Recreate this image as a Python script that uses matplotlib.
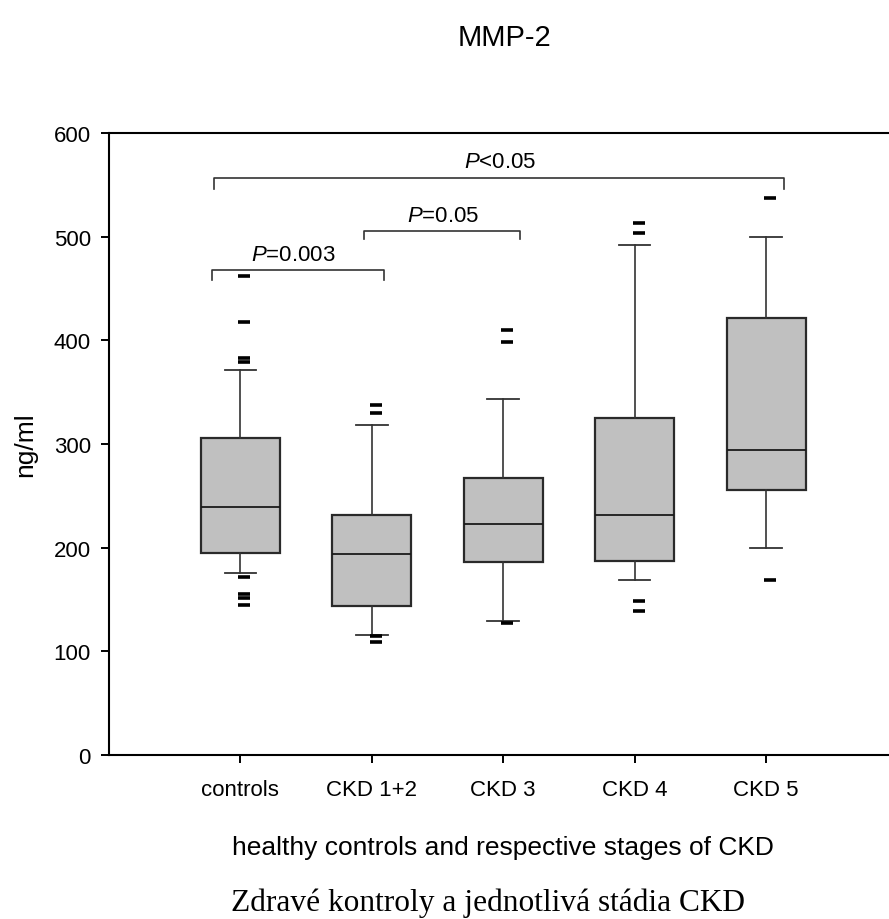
import matplotlib
matplotlib.use('Agg')
import matplotlib.pyplot as plt

#*********************************************************************************
# data (ng/ml)
groups = ['controls', 'CKD 1+2', 'CKD 3', 'CKD 4', 'CKD 5']
q1 = [194.5, 143.4, 185.9, 187.0, 255.6]
med = [239.0, 194.2, 222.8, 231.5, 294.5]
q3 = [306.0, 231.8, 267.5, 324.8, 421.5]
whislo = [176.0, 116.0, 129.3, 169.0, 199.7]
whishi = [371.7, 318.6, 343.4, 492.0, 500.0]
outliers = [[462.0, 418.0, 382.6, 379.4, 172.0, 155.0, 151.0, 144.7],
            [337.6, 329.9, 114.5, 109.3],
            [410.0, 398.7, 127.3],
            [512.9, 503.2, 148.9, 138.6],
            [537.6, 168.5]]

# significance brackets: start, end (in group units), height, label
br_x0 = [0.78, 1.94, 0.80]
br_x1 = [2.09, 3.13, 5.14]
br_y = [467.8, 505.5, 557.0]
br_leg = [10.0, 8.0, 11.0]
br_text_x = [1.40, 2.54, 2.98]
br_text = ['$\\mathit{P}$=0.003', '$\\mathit{P}$=0.05', '$\\mathit{P}$<0.05']

#*********************************************************************************
plt.rcParams['font.family'] = ['Liberation Sans', 'DejaVu Sans']
plt.rcParams['mathtext.fontset'] = 'custom'
plt.rcParams['mathtext.it'] = 'Liberation Sans:italic'
plt.rcParams['mathtext.rm'] = 'Liberation Sans'

fig = plt.figure(figsize=(8.89, 9.2), dpi=100)
ax = fig.add_axes([109/889, (920-756)/920, (897.5-109)/889, 622/920])

pos = list(range(1, len(groups)+1))
stats = []
for i in range(len(groups)):
   stats.append({'label': groups[i], 'q1': q1[i], 'med': med[i], 'q3': q3[i],
                 'whislo': whislo[i], 'whishi': whishi[i], 'fliers': []})

ax.bxp(stats, positions=pos, widths=0.6, patch_artist=True, showfliers=False,
       boxprops=dict(facecolor='#c0c0c0', edgecolor='#2a2a2a', linewidth=1.6),
       medianprops=dict(color='#1a1a1a', linewidth=1.3),
       whiskerprops=dict(color='#333333', linewidth=1.2),
       capprops=dict(color='#333333', linewidth=1.3),
       capwidths=0.24)

# outliers drawn as short heavy dashes, slightly right of centre
for i in range(len(groups)):
   ax.plot([pos[i]+0.03]*len(outliers[i]), outliers[i], ls='none', marker='_',
           markersize=8, markeredgewidth=2.6, color='black')

# brackets
for i in range(len(br_x0)):
   ax.plot([br_x0[i], br_x0[i], br_x1[i], br_x1[i]],
           [br_y[i]-br_leg[i], br_y[i], br_y[i], br_y[i]-br_leg[i]],
           color='#333333', lw=1.2)
   ax.text(br_text_x[i], br_y[i]+10, br_text[i], ha='center', va='baseline', fontsize=16)

ax.set_xlim(0, 6)
ax.set_ylim(0, 600)
ax.set_yticks([0, 100, 200, 300, 400, 500, 600])
ax.set_xticks(pos)
ax.set_xticklabels(groups)
ax.tick_params(axis='both', direction='out', length=6, width=1.4, labelsize=16)
ax.tick_params(axis='x', pad=11)
ax.tick_params(axis='y', pad=7)
ax.spines['right'].set_visible(False)
for s in ['left', 'bottom', 'top']:
   ax.spines[s].set_linewidth(1.5)

ax.set_ylabel('ng/ml', fontsize=19, va='center')
ax.yaxis.set_label_coords(-0.1065, 0.5)

fig.text(503/889, 1-855/920, 'healthy controls and respective stages of CKD',
         ha='center', va='baseline', fontsize=19)
fig.text(488/889, 1-911/920, 'Zdravé kontroly a jednotlivá stádia CKD',
         ha='center', va='baseline', fontsize=22.6, family='Liberation Serif')
fig.text(504/889, 1-46/920, 'MMP-2', ha='center', va='baseline', fontsize=21)

plt.savefig('out.png', dpi=100)
plt.close()
